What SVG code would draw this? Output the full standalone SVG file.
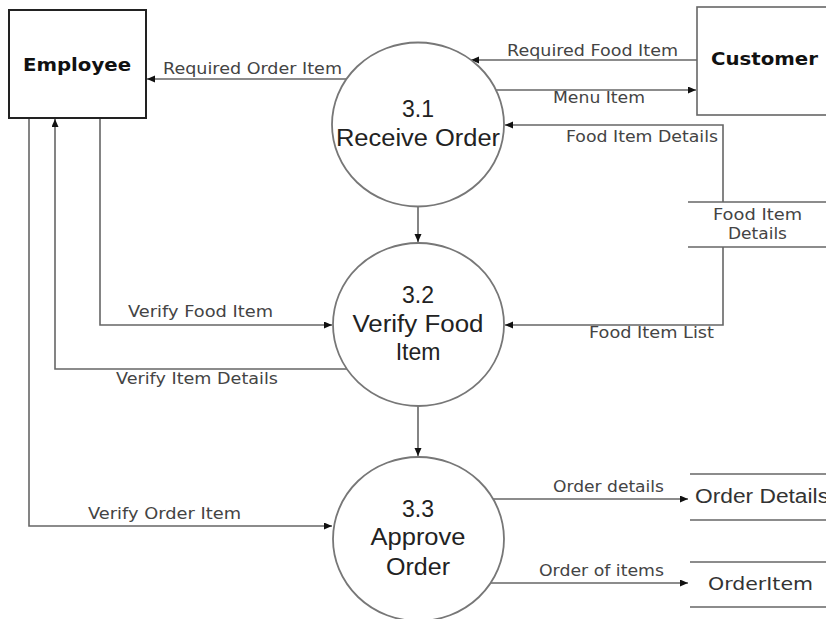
<svg xmlns="http://www.w3.org/2000/svg" width="826" height="619" viewBox="0 0 826 619">
<style>
.flow{fill:none;stroke:#666;stroke-width:1.6}
.proc{fill:#fff;stroke:#777;stroke-width:1.8}
.store{stroke:#666;stroke-width:1.6}
.lbl{font-family:"DejaVu Sans",Verdana,sans-serif;font-size:15px;fill:#444}
.ptxt{font-family:"Liberation Sans",Arial,sans-serif;font-size:23px;fill:#222;text-anchor:middle}
.ent{font-family:"DejaVu Sans",Verdana,sans-serif;font-size:18px;font-weight:bold;fill:#111}
.stxt{font-family:"DejaVu Sans",Verdana,sans-serif;font-size:15px;fill:#444}
</style>
<defs>
<marker id="ah" markerUnits="userSpaceOnUse" markerWidth="9" markerHeight="8" refX="8" refY="3.5" orient="auto">
<path d="M0,0 L8,3.5 L0,7 z" fill="#111"/>
</marker>
</defs>
<rect width="826" height="619" fill="#fff"/>
<g id="connectors">
<path class="flow" d="M347 79 H147" marker-end="url(#ah)"/>
<path class="flow" d="M697 60 H471" marker-end="url(#ah)"/>
<path class="flow" d="M496 90 H696" marker-end="url(#ah)"/>
<path class="flow" d="M723 202 V125 H505" marker-end="url(#ah)"/>
<path class="flow" d="M723 247 V325 H505" marker-end="url(#ah)"/>
<path class="flow" d="M418 206 V242" marker-end="url(#ah)"/>
<path class="flow" d="M418 406 V456" marker-end="url(#ah)"/>
<path class="flow" d="M100 119 V325 H332" marker-end="url(#ah)"/>
<path class="flow" d="M347 369 H55 V119" marker-end="url(#ah)"/>
<path class="flow" d="M29 119 V526 H332" marker-end="url(#ah)"/>
<path class="flow" d="M493 499 H688" marker-end="url(#ah)"/>
<path class="flow" d="M491 583 H688" marker-end="url(#ah)"/>
<text class="lbl" x="163" y="74" textLength="179" lengthAdjust="spacingAndGlyphs">Required Order Item</text>
<text class="lbl" x="507" y="56" textLength="171" lengthAdjust="spacingAndGlyphs">Required Food Item</text>
<text class="lbl" x="553" y="103" textLength="92" lengthAdjust="spacingAndGlyphs">Menu Item</text>
<text class="lbl" x="566" y="142" textLength="152" lengthAdjust="spacingAndGlyphs">Food Item Details</text>
<text class="lbl" x="589" y="338" textLength="125" lengthAdjust="spacingAndGlyphs">Food Item List</text>
<text class="lbl" x="128" y="317" textLength="145" lengthAdjust="spacingAndGlyphs">Verify Food Item</text>
<text class="lbl" x="116" y="384" textLength="162" lengthAdjust="spacingAndGlyphs">Verify Item Details</text>
<text class="lbl" x="88" y="519" textLength="153" lengthAdjust="spacingAndGlyphs">Verify Order Item</text>
<text class="lbl" x="553" y="492" textLength="111" lengthAdjust="spacingAndGlyphs">Order details</text>
<text class="lbl" x="539" y="576" textLength="125" lengthAdjust="spacingAndGlyphs">Order of items</text>
</g>
<g id="employee">
<rect x="9" y="10" width="137" height="108" fill="#fff" stroke="#222" stroke-width="2"/>
<text class="ent" x="23" y="71" textLength="108" lengthAdjust="spacingAndGlyphs">Employee</text>
</g>
<g id="customer">
<rect x="697" y="7" width="140" height="108" fill="#fff" stroke="#666" stroke-width="1.6"/>
<text class="ent" x="711" y="65" textLength="107" lengthAdjust="spacingAndGlyphs">Customer</text>
</g>
<g id="p31">
<ellipse class="proc" cx="418" cy="124.5" rx="86" ry="82"/>
<text class="ptxt" x="418" y="117">3.1</text>
<text class="ptxt" x="418" y="146" textLength="164" lengthAdjust="spacingAndGlyphs">Receive Order</text>
</g>
<g id="p32">
<ellipse class="proc" cx="418.5" cy="324.5" rx="85.5" ry="81.5"/>
<text class="ptxt" x="418" y="303">3.2</text>
<text class="ptxt" x="418" y="332" textLength="131" lengthAdjust="spacingAndGlyphs">Verify Food</text>
<text class="ptxt" x="418" y="360">Item</text>
</g>
<g id="p33">
<ellipse class="proc" cx="418.5" cy="539" rx="85.5" ry="82"/>
<text class="ptxt" x="418" y="517">3.3</text>
<text class="ptxt" x="418" y="545" textLength="95" lengthAdjust="spacingAndGlyphs">Approve</text>
<text class="ptxt" x="418" y="575" textLength="64" lengthAdjust="spacingAndGlyphs">Order</text>
</g>
<g id="ds-food-item-details">
<line class="store" x1="688" y1="202" x2="826" y2="202"/>
<line class="store" x1="688" y1="247" x2="826" y2="247"/>
<text class="stxt" x="713" y="220" textLength="89" lengthAdjust="spacingAndGlyphs">Food Item</text>
<text class="stxt" x="728" y="239" textLength="59" lengthAdjust="spacingAndGlyphs">Details</text>
</g>
<g id="ds-order-details">
<line class="store" x1="690" y1="474" x2="826" y2="474"/>
<line class="store" x1="690" y1="520" x2="826" y2="520"/>
<text x="695" y="503" font-family="'Liberation Sans',Arial,sans-serif" font-size="20" fill="#333" textLength="134" lengthAdjust="spacingAndGlyphs">Order Details</text>
</g>
<g id="ds-orderitem">
<line class="store" x1="690" y1="562" x2="826" y2="562"/>
<line class="store" x1="690" y1="607" x2="826" y2="607"/>
<text x="708" y="590" font-family="'DejaVu Sans',Verdana,sans-serif" font-size="18" fill="#333" textLength="105" lengthAdjust="spacingAndGlyphs">OrderItem</text>
</g>
</svg>
